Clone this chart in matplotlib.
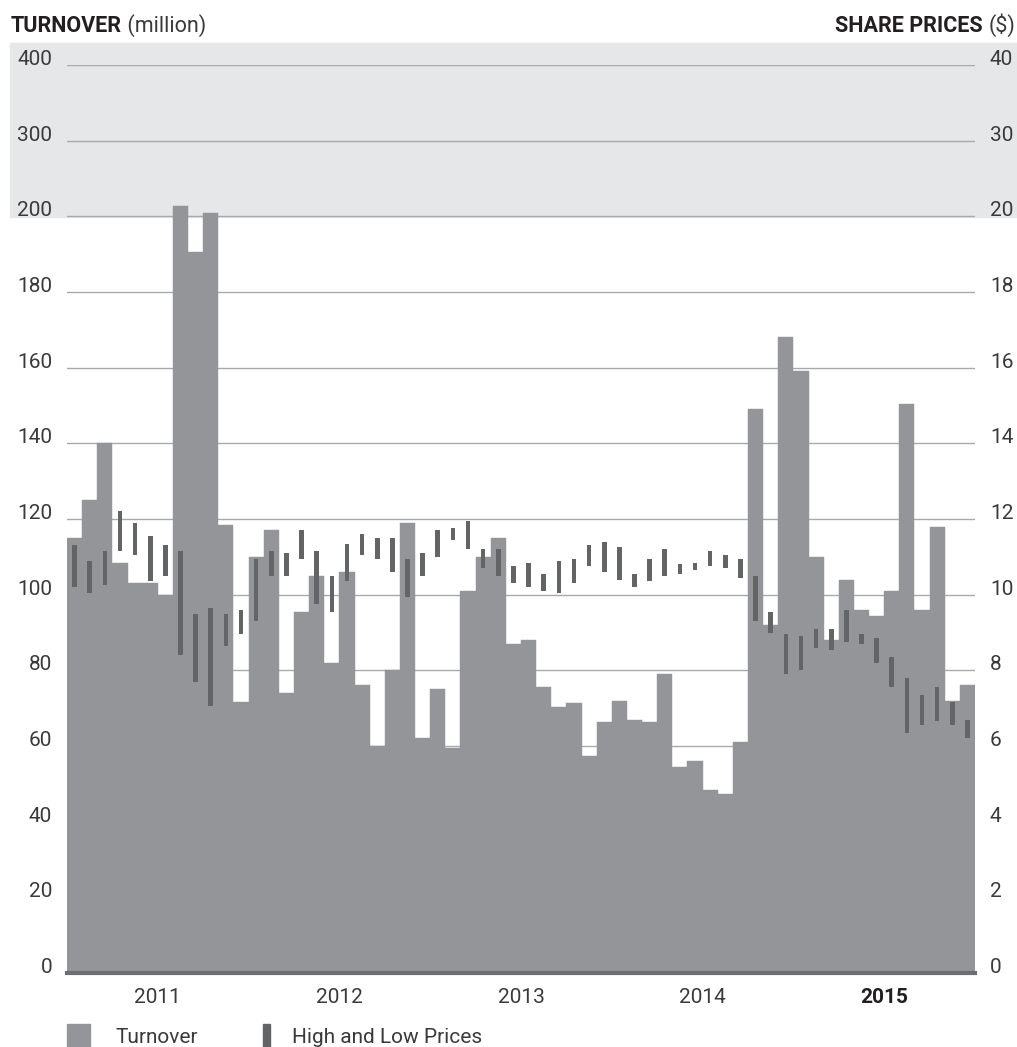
import numpy as np
import matplotlib
matplotlib.use('Agg')
import matplotlib.pyplot as plt
import matplotlib.transforms as mtransforms
from matplotlib.patches import Rectangle

plt.rcParams['font.family'] = ['Roboto', 'DejaVu Sans']

# monthly data, Jan 2011 - Dec 2015
years = ['2011', '2012', '2013', '2014', '2015']
turnover = [115, 125, 140, 108.5, 103, 103, 100, 214, 190.5, 205, 118.5, 71.5,
            110, 117, 74, 95.5, 105, 82, 106, 76, 60, 80, 119, 62,
            75, 59.5, 101, 110, 115, 87, 88, 75.5, 70.3, 71.3, 57.3, 66.3,
            72, 67, 66.3, 79, 54.4, 56, 48.3, 47.2, 61, 149, 92, 168,
            159, 110, 88, 104, 96, 94.3, 101, 150.5, 96, 118, 72, 76]
price_high = [11.3, 10.9, 11.15, 12.2, 11.9, 11.55, 11.3, 11.15, 9.5, 9.65, 9.5, 9.6,
              10.95, 11.15, 11.1, 11.7, 11.15, 10.5, 11.35, 11.6, 11.5, 11.5, 10.95, 11.1,
              11.7, 11.75, 11.95, 11.2, 11.2, 10.75, 10.85, 10.55, 10.9, 10.95, 11.3, 11.4,
              11.25, 10.55, 10.95, 11.2, 10.8, 10.85, 11.15, 11.05, 10.95, 10.5, 9.55, 8.95,
              8.9, 9.1, 9.1, 9.6, 8.95, 8.85, 8.35, 7.8, 7.35, 7.55, 7.15, 6.7]
price_low = [10.2, 10.05, 10.25, 11.15, 11.05, 10.35, 10.5, 8.4, 7.7, 7.05, 8.65, 8.95,
             9.3, 10.5, 10.5, 10.95, 9.75, 9.55, 10.35, 11.05, 10.95, 10.6, 9.95, 10.5,
             11.0, 11.45, 11.2, 10.7, 10.5, 10.3, 10.2, 10.1, 10.05, 10.3, 10.75, 10.6,
             10.4, 10.2, 10.35, 10.5, 10.55, 10.65, 10.75, 10.7, 10.45, 9.3, 9.0, 7.9,
             8.0, 8.6, 8.55, 8.75, 8.7, 8.2, 7.55, 6.35, 6.55, 6.65, 6.55, 6.2]
left_ticks = [0, 20, 40, 60, 80, 100, 120, 140, 160, 180, 200, 300, 400]
right_ticks = [0, 2, 4, 6, 8, 10, 12, 14, 16, 18, 20, 30, 40]

W, H = 1017, 1047
BAR = '#939598'
HL = '#636466'
GRID = '#a7a9ac'
TXT = '#3a3a3c'
DARK = '#231f20'
LBL = 'normal'


# broken scale: linear up to the break, compressed 5x above it
def make_scale(brk):
    def fwd(v):
        v = np.asarray(v, float)
        return np.where(v <= brk, v, brk + (v - brk) / 5.0)

    def inv(u):
        u = np.asarray(u, float)
        return np.where(u <= brk, u, brk + (u - brk) * 5.0)
    return fwd, inv


fig = plt.figure(figsize=(W / 100, H / 100), dpi=100)
fig.add_artist(Rectangle((10 / W, (H - 217) / H), 1007 / W, 174 / H,
                         transform=fig.transFigure, color='#e6e7e8', zorder=-10))

ax = fig.add_axes([67 / W, (H - 973) / H, 908 / W, 908 / H])
ax.patch.set_visible(False)
ax.set_yscale('function', functions=make_scale(200))
ax.set_ylim(0, 400)
x = np.arange(len(turnover))
ax.set_xlim(-0.5, len(turnover) - 0.5)

for v in left_ticks[1:]:
    ax.axhline(v, color=GRID, lw=1.0, zorder=1)
ax.bar(x, turnover, width=1.0, color=BAR, edgecolor=BAR, linewidth=0.3, zorder=2)

for s in ['top', 'left', 'right']:
    ax.spines[s].set_visible(False)
ax.spines['bottom'].set_color('#6d6e71')
ax.spines['bottom'].set_linewidth(3)
ax.set_xticks([-0.5 + 12 * i for i in range(len(years))])
ax.tick_params(axis='x', direction='in', length=5, width=1.5, color='white', labelbottom=False)
ax.set_yticks([])
ax.tick_params(axis='y', left=False, labelleft=False)

ax2 = ax.twinx()
ax2.patch.set_visible(False)
ax2.set_yscale('function', functions=make_scale(20))
ax2.set_ylim(0, 40)
hi = np.array(price_high)
lo = np.array(price_low)
ax2.bar(x, hi - lo, bottom=lo, width=0.3, color=HL, linewidth=0, zorder=3)
for s in ax2.spines.values():
    s.set_visible(False)
ax2.set_yticks([])
ax2.tick_params(axis='y', right=False, labelright=False)

tl = mtransforms.blended_transform_factory(ax.transAxes, ax.transData)
for v in left_ticks:
    ax.text(-0.0165, v, str(v), transform=tl, ha='right', va='baseline',
            fontsize=15, fontweight=LBL, color=TXT)
tr = mtransforms.blended_transform_factory(ax2.transAxes, ax2.transData)
for v in right_ticks:
    ax2.text(1.0165, v, str(v), transform=tr, ha='left', va='baseline',
             fontsize=15, fontweight=LBL, color=TXT)

ty = mtransforms.blended_transform_factory(ax.transData, ax.transAxes)
for i, yr in enumerate(years):
    ax.text(5.5 + 12 * i, -0.0275, yr, transform=ty, ha='center', va='center', fontsize=15,
            fontweight='bold' if yr == '2015' else LBL, color=DARK if yr == '2015' else TXT)

# axis titles
t1 = fig.text(11 / W, (H - 32) / H, 'TURNOVER', ha='left', va='baseline',
              fontsize=15.5, fontweight='bold', color=DARK)
ax.annotate(' (million)', xy=(1, 0), xycoords=t1, ha='left', va='bottom',
            fontsize=15.5, fontweight=LBL, color=TXT, annotation_clip=False)
t2 = fig.text(1015 / W, (H - 32) / H, '($)', ha='right', va='baseline',
              fontsize=15.5, fontweight=LBL, color=TXT)
ax.annotate('SHARE PRICES ', xy=(0, 0), xycoords=t2, ha='right', va='bottom',
            fontsize=15.5, fontweight='bold', color=DARK, annotation_clip=False)

# legend
fig.add_artist(Rectangle((67 / W, 0), 23 / W, 23 / H, transform=fig.transFigure, color=BAR))
fig.add_artist(Rectangle((263 / W, 0), 7 / W, 23 / H, transform=fig.transFigure, color=HL))
fig.text(116 / W, (H - 1043) / H, 'Turnover', ha='left', va='baseline',
         fontsize=15, fontweight=LBL, color=TXT)
fig.text(292 / W, (H - 1043) / H, 'High and Low Prices', ha='left', va='baseline',
         fontsize=15, fontweight=LBL, color=TXT)

fig.savefig('out.png', dpi=100)
